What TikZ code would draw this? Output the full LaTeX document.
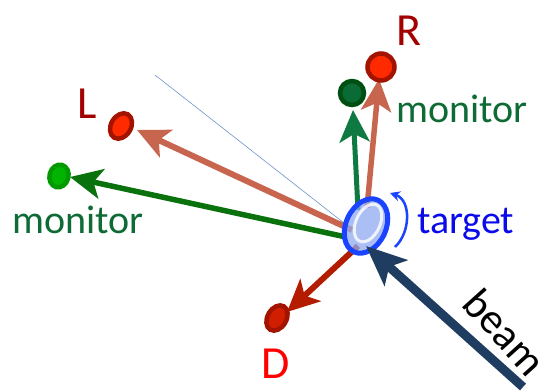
\documentclass[tikz,border=0pt]{standalone}
\usepackage{fontspec}
\setmainfont{Carlito}
\usetikzlibrary{arrows.meta,shapes.geometric}
\definecolor{salmon}{HTML}{C8654F}
\definecolor{ldark}{HTML}{A31400}
\definecolor{lred}{HTML}{FF2A00}
\definecolor{gleft}{HTML}{0A720C}
\definecolor{gdotb}{HTML}{009A00}
\definecolor{gdotf}{HTML}{00B400}
\definecolor{gtop}{HTML}{0E7A42}
\definecolor{gtopb}{HTML}{004F12}
\definecolor{gtopf}{HTML}{0A6B34}
\definecolor{darr}{HTML}{B41C00}
\definecolor{ddotf}{HTML}{D21E00}
\definecolor{beamc}{HTML}{1E3D61}
\definecolor{tblue}{HTML}{1A44FF}
\definecolor{tfill}{HTML}{8FAAF0}
\definecolor{ttext}{HTML}{0A0AEB}
\definecolor{monc}{HTML}{0E6B36}
\definecolor{lrtext}{HTML}{A30000}
\definecolor{thin}{HTML}{6E93C8}
\begin{document}
\begin{tikzpicture}[x=1pt,y=-1pt,
  arr/.style={line width=6pt},
  tipA/.style={-{Stealth[length=32pt,width=30pt,inset=8pt]}},
  dotshape/.style={ellipse, draw, line width=4.5pt, inner sep=0pt},
  lbl/.style={font=\fontsize{46}{50}\selectfont, inner sep=0pt, anchor=base west},
  mon/.style={font=\fontsize{40}{44}\selectfont, text=monc, inner sep=0pt, anchor=base west}]
\useasboundingbox (0,0) rectangle (549,391);
% coordinates
\coordinate (c0) at (155,75);
\coordinate (c1) at (344,223);
\coordinate (sL) at (352,230);
\coordinate (eL) at (137,130);
\coordinate (sGL) at (346,237);
\coordinate (eGL) at (70,177);
\coordinate (sR) at (367,208);
\coordinate (eR) at (379,79);
\coordinate (sGT) at (358,210);
\coordinate (eGT) at (353,110);
\coordinate (sD) at (358,246);
\coordinate (eD) at (287,312);
\coordinate (sB) at (523,387);
\coordinate (eB) at (366,246);
\coordinate (r0) at (395,247);
\coordinate (r1) at (390,193);
% thin line
\draw[draw=thin, line width=0.6pt] (c0) -- (c1);
% arrows
\draw[arr, salmon, tipA] (sL) -- (eL);
\draw[arr, gleft, tipA, line width=5.5pt] (sGL) -- (eGL);
\draw[arr, salmon, tipA, line width=5.5pt] (sR) -- (eR);
\draw[arr, gtop, tipA, line width=5pt] (sGT) -- (eGT);
\draw[arr, darr, tipA, line width=6pt] (sD) -- (eD);
% dots
\node[dotshape, draw=ldark, fill=lred, minimum width=20pt, minimum height=27pt, rotate=-30] (Ldot) at (121,126) {};
\node[dotshape, draw=gdotb, fill=gdotf, minimum width=19pt, minimum height=23pt, rotate=-15] (GLdot) at (59,176) {};
\node[dotshape, draw=ldark, fill=lred, minimum width=27pt, minimum height=27pt] (Rdot) at (381,67) {};
\node[dotshape, draw=gtopb, fill=gtopf, minimum width=24pt, minimum height=24pt] (GTdot) at (352,93) {};
\node[dotshape, draw=ldark, fill=ddotf, minimum width=19pt, minimum height=27pt, rotate=-30] (Ddot) at (277,318) {};
% target
\node[ellipse, draw=tblue, line width=5pt, fill=tfill, fill opacity=0.75, minimum width=40pt, minimum height=57pt, rotate=-25, inner sep=0pt] (target) at (366,226) {};
\node[ellipse, draw=white, line width=3pt, draw opacity=0.8, minimum width=24pt, minimum height=40pt, rotate=-25, inner sep=0pt] (tring) at (368,223) {};
% rotation arrow
\draw[tblue, line width=2.5pt, -{Stealth[length=10pt,width=10pt]}] (r0) .. controls (411,232) and (411,200) .. (r1);
% beam
\draw[beamc, line width=9pt, -{Stealth[length=40pt,width=34pt,inset=9pt]}] (sB) -- (eB);
% labels
\node[font=\fontsize{40}{44}\selectfont, text=ttext, inner sep=0pt, anchor=base west] (tlab) at (417,233) {target};
\node[font=\fontsize{43}{48}\selectfont, text=black, inner sep=0pt, rotate=-48] (blab) at (505,332) {beam};
\node[mon] (mtop) at (396,122) {monitor};
\node[mon] (mleft) at (12,233) {monitor};
\node[lbl, text=lrtext] (Llab) at (77,118) {L};
\node[lbl, text=lrtext] (Rlab) at (396,45) {R};
\node[lbl, text=red] (Dlab) at (261,378) {D};
\end{tikzpicture}
\end{document}
